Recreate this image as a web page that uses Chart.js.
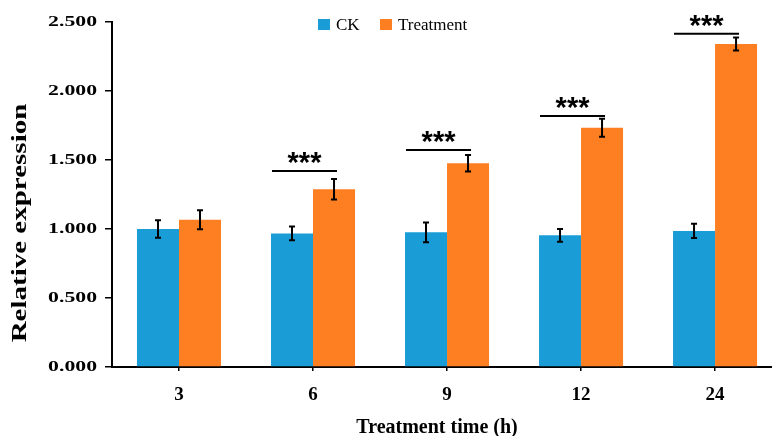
<!DOCTYPE html>
<html>
<head>
<meta charset="utf-8">
<script src="https://cdn.jsdelivr.net/npm/chart.js@4"></script>
<style>
  body { margin: 0; background: #fff; }
</style>
</head>
<body>
<canvas id="myChart" width="772" height="436"></canvas>
<script>
// values
let timeLabels = ["3", "6", "9", "12", "24"];
let ckMeans = [1.0, 0.968, 0.976, 0.954, 0.986];
let ckErrors = [0.064, 0.05, 0.072, 0.046, 0.052];
let treatMeans = [1.067, 1.288, 1.476, 1.734, 2.341];
let treatErrors = [0.068, 0.075, 0.06, 0.065, 0.047];
let sigMarks = ["", "***", "***", "***", "***"];
let sigHeights = [null, 1.42, 1.572, 1.818, 2.415];
let yTicks = [0, 0.5, 1.0, 1.5, 2.0, 2.5];

let blue = "#1a9cd7";
let orange = "#fe7f22";
let serif = "'Liberation Serif', 'Times New Roman', serif";

var ctx = document.getElementById("myChart");

function toPoints(values) {
	return values.map((v, i) => ({ x: i, y: v }));
}

// error bars, significance marks, legend and axis titles
let extras = {
	id: "extras",
	afterDatasetsDraw(chart) {
		let c = chart.ctx;
		let yScale = chart.scales.y;
		let errs = [ckErrors, treatErrors];
		let means = [ckMeans, treatMeans];
		c.save();
		c.strokeStyle = "#000";
		c.lineWidth = 2;
		for (let d = 0; d < 2; d++) {
			let meta = chart.getDatasetMeta(d);
			meta.data.forEach((bar, i) => {
				let top = yScale.getPixelForValue(means[d][i] + errs[d][i]);
				let bot = yScale.getPixelForValue(means[d][i] - errs[d][i]);
				c.beginPath();
				c.moveTo(bar.x, top);
				c.lineTo(bar.x, bot);
				c.moveTo(bar.x - 3, top);
				c.lineTo(bar.x + 3, top);
				c.moveTo(bar.x - 3, bot);
				c.lineTo(bar.x + 3, bot);
				c.stroke();
			});
		}
		// significance lines
		let ckMeta = chart.getDatasetMeta(0);
		let trMeta = chart.getDatasetMeta(1);
		sigMarks.forEach((mark, i) => {
			if (!mark) return;
			let y = yScale.getPixelForValue(sigHeights[i]);
			let x0 = ckMeta.data[i].x - ckMeta.data[i].width / 2 + 1;
			let x1 = trMeta.data[i].x + 3;
			c.beginPath();
			c.moveTo(x0, y);
			c.lineTo(x1, y);
			c.stroke();
			c.fillStyle = "#000";
			c.font = "bold 29px 'Liberation Sans', Arial, sans-serif";
			c.textAlign = "center";
			c.textBaseline = "alphabetic";
			c.fillText(mark, (x0 + x1) / 2, y + 1);
		});
		c.restore();
	},
	afterDraw(chart) {
		let c = chart.ctx;
		let yScale = chart.scales.y;
		c.save();
		c.fillStyle = "#000";
		// y tick labels (wide in the original)
		c.font = "bold 15px " + serif;
		c.textAlign = "right";
		c.textBaseline = "middle";
		yTicks.forEach((t) => {
			let y = yScale.getPixelForValue(t);
			c.save();
			c.translate(97, y);
			c.scale(1.45, 1);
			c.fillText(t.toFixed(3), 0, 0);
			c.restore();
		});
		// y title
		c.save();
		c.translate(26, 223);
		c.rotate(-Math.PI / 2);
		c.scale(1.45, 1);
		c.font = "bold 20px " + serif;
		c.textAlign = "center";
		c.textBaseline = "alphabetic";
		c.fillText("Relative expression", 0, 0);
		c.restore();
		// x title
		c.font = "bold 20px " + serif;
		c.textAlign = "center";
		c.textBaseline = "alphabetic";
		c.fillText("Treatment time (h)", 437, 433);
		// legend
		c.font = "17px " + serif;
		c.textAlign = "left";
		c.fillStyle = blue;
		c.fillRect(318, 19, 12, 11);
		c.fillStyle = orange;
		c.fillRect(380, 19, 12, 11);
		c.fillStyle = "#000";
		c.fillText("CK", 336, 30);
		c.fillText("Treatment", 398, 30);
		c.restore();
	},
};

var myChart = new Chart(ctx, {
	type: "bar",
	data: {
		datasets: [
			{
				label: "CK",
				data: toPoints(ckMeans),
				backgroundColor: blue,
				borderWidth: 0,
			},
			{
				label: "Treatment",
				data: toPoints(treatMeans),
				backgroundColor: orange,
				borderWidth: 0,
			},
		],
	},
	options: {
		responsive: false,
		animation: false,
		categoryPercentage: 0.627,
		barPercentage: 1.0,
		layout: { padding: { top: 22, left: 0, right: 0, bottom: 0 } },
		plugins: {
			legend: { display: false },
			tooltip: { enabled: false },
		},
		scales: {
			x: {
				type: "linear",
				min: -0.5,
				max: 4.425,
				offset: false,
				afterBuildTicks: (scale) => {
					scale.ticks = timeLabels.map((_, i) => ({ value: i }));
				},
				afterFit: (scale) => {
					scale.height = 69;
				},
				ticks: {
					callback: (v) => timeLabels[v],
					color: "#000",
					font: { family: serif, size: 19, weight: "bold" },
					padding: 13,
					maxRotation: 0,
				},
				grid: {
					offset: false,
					drawOnChartArea: false,
					tickLength: 4,
					color: "#000",
					lineWidth: 1.5,
				},
				border: { color: "#000", width: 2 },
			},
			y: {
				min: 0,
				max: 2.5,
				afterBuildTicks: (scale) => {
					scale.ticks = yTicks.map((v) => ({ value: v }));
				},
				afterFit: (scale) => {
					scale.width = 112;
				},
				ticks: { display: false },
				grid: {
					drawOnChartArea: false,
					tickLength: 7,
					color: "#000",
					lineWidth: 1.5,
				},
				border: { color: "#000", width: 2 },
			},
		},
	},
	plugins: [extras],
});
</script>
</body>
</html>
